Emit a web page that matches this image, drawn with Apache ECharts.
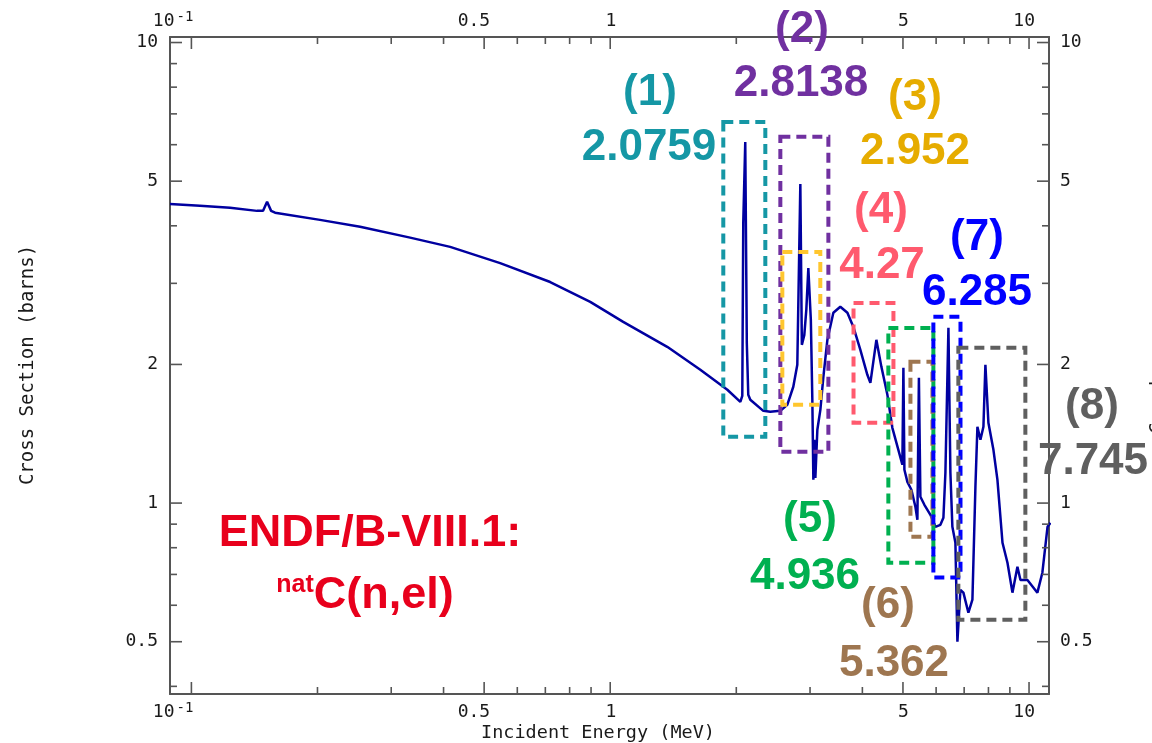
<!DOCTYPE html>
<html>
<head>
<meta charset="utf-8">
<script src="https://cdn.jsdelivr.net/npm/echarts@6/dist/echarts.min.js"></script>
<style>html,body{margin:0;padding:0;background:#fff}#c{width:1152px;height:743px}</style>
</head>
<body>
<div id="c"></div>
<script>
// ---- data ----
const energy = [0.0889,0.1048,0.1237,0.1434,0.1483,0.1516,0.155,0.1584,0.2028,0.2528,
  0.3328,0.4148,0.546,0.7189,0.896,1.074,1.368,1.641,1.904,2.045,
  2.067,2.078,2.101,2.119,2.136,2.16,2.32,2.411,2.548,2.647,
  2.736,2.797,2.844,2.868,2.907,2.939,2.972,2.997,3.013,3.038,
  3.055,3.072,3.089,3.123,3.175,3.228,3.30,3.41,3.543,3.684,
  3.807,3.956,4.111,4.18,4.32,4.441,4.59,4.717,4.875,4.984,
  5.012,5.04,5.123,5.237,5.354,5.413,5.458,5.503,5.625,5.815,
  5.976,6.143,6.245,6.314,6.42,6.49,6.561,6.671,6.745,6.857,
  6.971,7.165,7.325,7.447,7.529,7.655,7.782,7.867,7.998,8.222,
  8.404,8.642,8.882,9.128,9.382,9.539,9.913,10.47,10.76,11.07,11.25];
const sigma = [4.46,4.42,4.38,4.31,4.31,4.51,4.31,4.27,4.12,3.98,
  3.77,3.60,3.32,3.02,2.735,2.475,2.184,1.947,1.762,1.659,
  1.71,4.06,6.08,2.228,1.718,1.676,1.586,1.578,1.586,1.634,
  1.789,1.996,4.93,2.206,2.319,2.628,3.24,2.763,2.50,1.676,
  1.124,1.372,1.134,1.443,1.594,1.88,2.262,2.589,2.668,2.589,
  2.413,2.151,1.899,1.824,2.262,1.976,1.718,1.457,1.305,1.211,
  1.966,1.181,1.112,1.069,0.982,0.92,1.871,1.032,0.9915,0.943,
  0.888,0.897,0.929,1.164,2.402,1.164,0.888,0.82,0.50,0.648,
  0.639,0.578,0.617,1.085,1.464,1.372,1.464,1.996,1.494,1.305,
  1.124,0.82,0.742,0.639,0.727,0.681,0.681,0.639,0.706,0.888,0.906];

const xMin = 0.0889, xMax = 11.16, yMin = 0.385, yMax = 10.28;
const xMajorTicks = [0.1, 0.5, 1, 5, 10];
const xMajorLabels = ['10{s|-1}', '0.5', '1', '5', '10'];
const xMinorTicks = [0.2,0.3,0.4,0.6,0.7,0.8,0.9,2,3,4,6,7,8,9];
const yMajorTicks = [0.5, 1, 2, 5, 10];
const yMajorLabels = ['0.5', '1', '2', '5', '10'];
const yMinorTicks = [0.4,0.6,0.7,0.8,0.9,3,4,6,7,8,9];
const xTitle = 'Incident Energy (MeV)';
const yTitle = 'Cross Section (barns)';

// resonance boxes: energy from/to, cross-section from/to
const boxE1 = [1.862, 2.548, 2.576, 3.81, 4.614, 5.21, 5.91, 6.78];
const boxE2 = [2.346, 3.318, 3.174, 4.745, 5.91, 5.88, 6.86, 9.80];
const boxS1 = [1.393, 1.292, 1.635, 1.494, 0.742, 0.845, 0.689, 0.558];
const boxS2 = [6.72, 6.24, 3.51, 2.72, 2.40, 2.026, 2.537, 2.174];
const boxColors = ['#1597a5','#7030a0','#ffc62e','#ff5a6e','#00b050','#9e7650','#0000ff','#5f5f5f'];

const peakIds = ['(1)','(2)','(3)','(4)','(5)','(6)','(7)','(8)'];
const peakEnergies = ['2.0759','2.8138','2.952','4.27','4.936','5.362','6.285','7.745'];
const peakColors = ['#1597a5','#7030a0','#e6ac00','#ff5a6e','#00b050','#9e7650','#0000ff','#5f5f5f'];

// ---- build ----
const tickItems = [];
xMajorTicks.forEach((v,i)=>tickItems.push({axis:'x',v:v,major:true,label:xMajorLabels[i]}));
xMinorTicks.forEach(v=>tickItems.push({axis:'x',v:v,major:false}));
yMajorTicks.forEach((v,i)=>tickItems.push({axis:'y',v:v,major:true,label:yMajorLabels[i]}));
yMinorTicks.forEach(v=>tickItems.push({axis:'y',v:v,major:false}));

const monoFont = '"DejaVu Sans Mono", monospace';
const axisColor = '#555';
const labelFont = '18px ' + monoFont;

function renderTick(params, api) {
  const t = tickItems[params.dataIndex];
  const cs = params.coordSys;
  const len = t.major ? 12 : 7;
  const ls = {stroke: axisColor, lineWidth: 1.6};
  const ch = [];
  const lblStyle = (text, x, y, align) => ({type:'text', style:{text:text, x:x, y:y, align:align, verticalAlign:'middle',
      font:labelFont, fill:'#1a1a1a', rich:{s:{fontSize:14, fontFamily:'DejaVu Sans Mono', verticalAlign:'top', padding:[0,0,8,2], fill:'#1a1a1a'}}}});
  if (t.axis === 'x') {
    const px = api.coord([t.v, 1])[0];
    const yb = cs.y + cs.height, yt = cs.y;
    ch.push({type:'line', shape:{x1:px,y1:yb,x2:px,y2:yb-len}, style:ls});
    ch.push({type:'line', shape:{x1:px,y1:yt,x2:px,y2:yt+len}, style:ls});
    if (t.label) {
      const off = t.label.indexOf('{') >= 0 ? 2 : 6;
      ch.push(lblStyle(t.label, px + off, yb + 18, 'right'));
      ch.push(lblStyle(t.label, px + off, yt - 16, 'right'));
    }
  } else {
    const py = api.coord([1, t.v])[1];
    const xl = cs.x, xr = cs.x + cs.width;
    ch.push({type:'line', shape:{x1:xl,y1:py,x2:xl+len,y2:py}, style:ls});
    ch.push({type:'line', shape:{x1:xr,y1:py,x2:xr-len,y2:py}, style:ls});
    if (t.label) {
      ch.push(lblStyle(t.label, xl - 12, py, 'right'));
      ch.push(lblStyle(t.label, xr + 11, py, 'left'));
    }
  }
  return {type:'group', children:ch};
}

function renderBox(params, api) {
  const i = params.dataIndex;
  const p1 = api.coord([boxE1[i], boxS2[i]]);
  const p2 = api.coord([boxE2[i], boxS1[i]]);
  return {type:'rect', shape:{x:p1[0], y:p1[1], width:p2[0]-p1[0], height:p2[1]-p1[1]},
    style:{fill:'none', stroke:boxColors[i], lineWidth:4, lineDash:[10,6]}};
}

const bigFont = 'bold 44px "Liberation Sans", Arial, sans-serif';
// annotation text layout (pixel positions)
const idPos = [[650,93],[802,30],[915,98],[881,211],[810,520],[888,606],[977,238],[1092,407]];
const ePos  = [[649,148],[801,84],[915,152],[882,266],[805,577],[894,664],[977,293],[1093,462]];
const graphics = [];
peakIds.forEach((t,i)=>{
  graphics.push({type:'text', x:idPos[i][0], y:idPos[i][1], z:100,
    style:{text:t, align:'center', verticalAlign:'middle', font:bigFont, fill:peakColors[i]}});
  graphics.push({type:'text', x:ePos[i][0], y:ePos[i][1], z:100,
    style:{text:peakEnergies[i], align:'center', verticalAlign:'middle', font:bigFont, fill:peakColors[i]}});
});
graphics.push({type:'text', x:370, y:534, z:100,
  style:{text:'ENDF/B-VIII.1:', align:'center', verticalAlign:'middle', font:'bold 45px "Liberation Sans", Arial, sans-serif', fill:'#e8001c'}});
graphics.push({type:'text', x:365, y:596, z:100,
  style:{text:'{sup|nat}{big|C(n,el)}', align:'center', verticalAlign:'middle', fill:'#e8001c',
    rich:{sup:{font:'bold 25px "Liberation Sans", Arial, sans-serif', fill:'#e8001c', verticalAlign:'top', padding:[0,0,22,0]},
          big:{font:'bold 45px "Liberation Sans", Arial, sans-serif', fill:'#e8001c'}}}});
graphics.push({type:'text', x:28, y:365, rotation:Math.PI/2, z:100,
  style:{text:yTitle, align:'center', verticalAlign:'middle', font:'19px ' + monoFont, fill:'#1a1a1a'}});
graphics.push({type:'text', x:598, y:733, z:100,
  style:{text:xTitle, align:'center', verticalAlign:'middle', font:'18.5px ' + monoFont, fill:'#1a1a1a'}});
graphics.push({type:'text', x:1158, y:434, rotation:Math.PI/2, z:100,
  style:{text:'Counts', align:'left', verticalAlign:'middle', font:'19px ' + monoFont, fill:'#1a1a1a'}});

const axisBase = {type:'log', logBase:10, axisLabel:{show:false}, axisTick:{show:false}, splitLine:{show:false},
  axisLine:{show:true, onZero:false, lineStyle:{color:axisColor, width:2}}};

const option = {
  backgroundColor:'#fff',
  animation:false,
  grid:{left:170, right:103, top:37, bottom:49, containLabel:false},
  xAxis:[
    Object.assign({}, axisBase, {position:'bottom', min:xMin, max:xMax}),
    Object.assign({}, axisBase, {position:'top', min:xMin, max:xMax})
  ],
  yAxis:[
    Object.assign({}, axisBase, {position:'left', min:yMin, max:yMax}),
    Object.assign({}, axisBase, {position:'right', min:yMin, max:yMax})
  ],
  graphic:graphics,
  series:[
    {type:'line', name:'nat C (n,el)', data:energy.map((e,i)=>[e, sigma[i]]), showSymbol:false, symbol:'none',
      lineStyle:{color:'#0000a0', width:2.5}, z:3, clip:true},
    {type:'custom', name:'boxes', data:boxE1.map((e,i)=>[e, boxS1[i]]), renderItem:renderBox, z:5, clip:false},
    {type:'custom', name:'ticks', data:tickItems.map(t=>t.axis==='x'?[t.v,1]:[1,t.v]), renderItem:renderTick, z:6, clip:false}
  ]
};
const chart = echarts.init(document.getElementById('c'), null, {renderer:'canvas'});
chart.setOption(option);
</script>
</body>
</html>
